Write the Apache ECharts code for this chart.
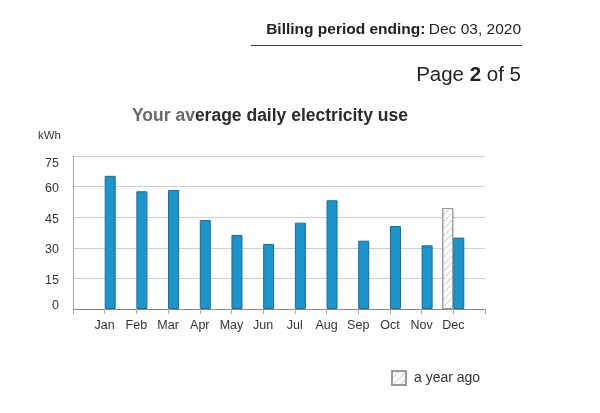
<!DOCTYPE html>
<html>
<head>
<meta charset="utf-8">
<script src="https://cdn.jsdelivr.net/npm/echarts@6/dist/echarts.min.js"></script>
<style>
  html, body { margin: 0; padding: 0; background: #fff; }
  #chart { width: 600px; height: 413px; }
</style>
</head>
<body>
<div id="chart"></div>
<script>
// Monthly values (kWh per day)
var months = ['Jan', 'Feb', 'Mar', 'Apr', 'May', 'Jun', 'Jul', 'Aug', 'Sep', 'Oct', 'Nov', 'Dec'];
var thisYear = [65.3, 57.7, 58.3, 43.6, 36.3, 31.9, 42.3, 53.3, 33.5, 40.7, 31.2, 35.0];
var yearAgo = ['-', '-', '-', '-', '-', '-', '-', '-', '-', '-', '-', 49.5];
var yTicks = [0, 15, 30, 45, 60, 75];

var font = '"Liberation Sans", Arial, sans-serif';

function init() {
  var chart = echarts.init(document.getElementById('chart'));

  // pad an empty slot at each end so the months sit between the plot edges
  var cats = [''].concat(months, ['']);
  var curData = ['-'].concat(thisYear, ['-']);
  var agoData = ['-'].concat(yearAgo, ['-']);
  var topTick = yTicks[yTicks.length - 1];

  chart.setOption({
    animation: false,
    textStyle: {fontFamily: font},
    title: {
      text: '{a|Your av}{b|erage daily electricity use}',
      left: 127,
      top: 102,
      textStyle: {
        rich: {
          a: {fontSize: 17.5, fontWeight: 'bold', color: '#6a6a6a', fontFamily: font},
          b: {fontSize: 17.5, fontWeight: 'bold', color: '#2b2b2b', fontFamily: font}
        }
      }
    },
    legend: {
      data: ['a year ago'],
      left: 391,
      top: 370,
      padding: 0,
      icon: 'rect',
      itemWidth: 14,
      itemHeight: 14,
      textStyle: {fontSize: 14, color: '#333', fontFamily: font, padding: [0, 0, 0, 3]},
      selectedMode: false
    },
    grid: {left: 73, right: 115, top: 156, bottom: 104},
    xAxis: {
      type: 'category',
      data: cats,
      boundaryGap: false,
      axisLine: {lineStyle: {color: '#8a8a8a'}},
      axisTick: {show: true, length: 5, lineStyle: {color: '#aaa'}},
      axisLabel: {fontSize: 12.5, color: '#333', margin: 10, interval: 0}
    },
    yAxis: {
      type: 'value',
      min: yTicks[0],
      max: topTick,
      interval: 15,
      axisLine: {show: true, lineStyle: {color: '#aaa'}},
      axisTick: {show: false},
      axisLabel: {
        color: '#333',
        margin: 14,
        formatter: function(v) {
          if (v === topTick) return '{t|' + v + '}';
          if (v === 0) return '{z|' + v + '}';
          return '{m|' + v + '}';
        },
        rich: {
          t: {fontSize: 12.5, color: '#333', padding: [16, 0, 0, 0]},
          z: {fontSize: 12.5, color: '#333', padding: [0, 0, 6, 0]},
          m: {fontSize: 12.5, color: '#333', padding: [4, 0, 0, 0]}
        }
      },
      splitLine: {lineStyle: {color: '#cfcfcf'}}
    },
    series: [
      {
        name: 'a year ago',
        type: 'bar',
        data: agoData,
        barWidth: 11,
        barGap: '0%',
        itemStyle: {
          color: '#ffffff',
          borderColor: '#999999',
          borderWidth: 1,
          decal: {
            symbol: 'rect',
            symbolSize: 1,
            rotation: -Math.PI / 4,
            dashArrayX: [1, 0],
            dashArrayY: [1, 4],
            color: '#cdd5dc'
          }
        }
      },
      {
        name: 'this year',
        type: 'bar',
        data: curData,
        barWidth: 11,
        barGap: '0%',
        itemStyle: {color: '#1b96cd', borderColor: '#1f6a8e', borderWidth: 1}
      }
    ],
    graphic: [
      {
        type: 'text',
        right: 79,
        top: 22,
        style: {
          text: '{b|Billing period ending:} {n|Dec 03, 2020}',
          rich: {
            b: {fontSize: 15.5, fontWeight: 'bold', fill: '#222', fontFamily: font},
            n: {fontSize: 15.5, fill: '#222', fontFamily: font}
          }
        }
      },
      {
        type: 'line',
        shape: {x1: 251, y1: 45.5, x2: 522, y2: 45.5},
        style: {stroke: '#444', lineWidth: 1}
      },
      {
        type: 'text',
        right: 79,
        top: 65,
        style: {
          text: '{n|Page }{b|2}{n| of 5}',
          rich: {
            b: {fontSize: 20.5, fontWeight: 'bold', fill: '#222', fontFamily: font},
            n: {fontSize: 20.5, fill: '#222', fontFamily: font}
          }
        }
      },
      {
        type: 'text',
        left: 38,
        top: 130,
        style: {text: 'kWh', fontSize: 11.5, fill: '#333', fontFamily: font}
      }
    ]
  });
}

init();
</script>
</body>
</html>
